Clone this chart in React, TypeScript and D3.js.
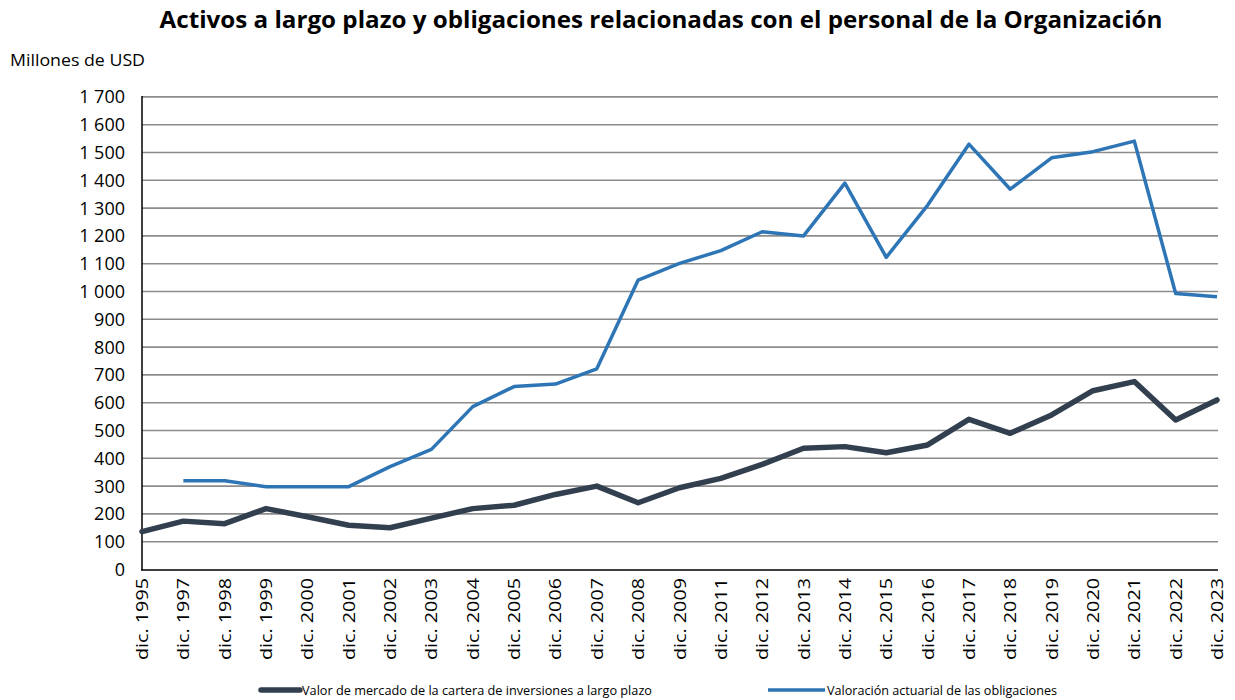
import React from "react";
import * as d3 from "d3";

const categories = ["dic. 1995","dic. 1997","dic. 1998","dic. 1999","dic. 2000","dic. 2001","dic. 2002","dic. 2003","dic. 2004","dic. 2005","dic. 2006","dic. 2007","dic. 2008","dic. 2009","dic. 2011","dic. 2012","dic. 2013","dic. 2014","dic. 2015","dic. 2016","dic. 2017","dic. 2018","dic. 2019","dic. 2020","dic. 2021","dic. 2022","dic. 2023"];
const marketValue = [136,174,165,219,190,159,150,185,219,231,270,300,240,294,328,378,436,442,420,448,540,490,556,643,676,538,610];
const actuarial: (number|null)[] = [null,319,319,298,298,298,370,432,586,658,667,722,1041,1101,1147,1215,1200,1390,1123,1310,1530,1368,1481,1503,1541,993,981];
const yTicks = [0,100,200,300,400,500,600,700,800,900,1000,1100,1200,1300,1400,1500,1600,1700];
const seriesNames = ["Valor de mercado de la cartera de inversiones a largo plazo","Valoración actuarial de las obligaciones"];
const title = "Activos a largo plazo y obligaciones relacionadas con el personal de la Organización";
const yUnit = "Millones de USD";

const W = 1235, H = 700;
const fmt = (v: number) => v >= 1000 ? `${Math.floor(v/1000)} ${String(v%1000).padStart(3,"0")}` : String(v);

export default function App() {
  const x = d3.scalePoint<string>().domain(categories).range([142, 1217]);
  const y = d3.scaleLinear().domain([0, 1700]).range([569.5, 96.9]);
  const line = d3.line<number|null>()
    .defined(d => d != null)
    .x((_, i) => x(categories[i])!)
    .y(d => y(d as number));
  const font = "'Open Sans', sans-serif";
  return (
    <svg width={W} height={H} style={{position:"absolute", left:0, top:0, background:"#fff"}} fontFamily={font}>
      <text x={661} y={28} textAnchor="middle" fontWeight="bold" fontSize={24} textLength={1003} lengthAdjust="spacingAndGlyphs" fill="#000">{title}</text>
      <text x={10} y={66} fontSize={16} textLength={135} lengthAdjust="spacingAndGlyphs" fill="#000">{yUnit}</text>
      {yTicks.map(t => (
        <g key={t}>
          {t > 0 && <line x1={142} x2={1218} y1={y(t)} y2={y(t)} stroke="#8c8c8c" strokeWidth={1.6} />}
          <text x={125} y={y(t)} dy="0.36em" textAnchor="end" fontSize={18} fill="#000">{fmt(t)}</text>
        </g>
      ))}
      <line x1={142} x2={142} y1={96} y2={570} stroke="#000" strokeWidth={1.5} />
      <line x1={141} x2={1218} y1={570} y2={570} stroke="#000" strokeWidth={1.5} />
      {categories.map(c => (
        <text key={c} transform={`translate(${x(c)! + 6},578) rotate(-90)`} textAnchor="end" fontSize={17} textLength={82} lengthAdjust="spacingAndGlyphs" fill="#000">{c}</text>
      ))}
      <path d={line(marketValue)!} fill="none" stroke="#323f4f" strokeWidth={5.5} strokeLinejoin="round" strokeLinecap="round" />
      <path d={line(actuarial)!} fill="none" stroke="#2e75b6" strokeWidth={3.5} strokeLinejoin="round" />
      <line x1={261} x2={300} y1={690} y2={690} stroke="#323f4f" strokeWidth={5.5} strokeLinecap="round" />
      <text x={302} y={690} dy="0.36em" fontSize={13} textLength={350} lengthAdjust="spacingAndGlyphs" fill="#000">{seriesNames[0]}</text>
      <line x1={768} x2={825} y1={690} y2={690} stroke="#2e75b6" strokeWidth={3.5} />
      <text x={827} y={690} dy="0.36em" fontSize={13} textLength={230} lengthAdjust="spacingAndGlyphs" fill="#000">{seriesNames[1]}</text>
    </svg>
  );
}
